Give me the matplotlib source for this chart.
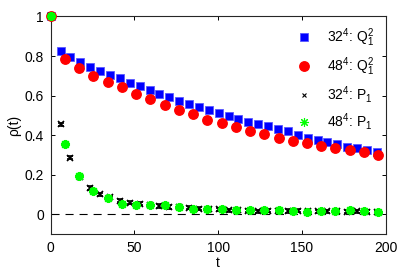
import numpy as np
import matplotlib
matplotlib.use("Agg")
import matplotlib.pyplot as plt
from matplotlib.lines import Line2D

plt.rcParams['font.family'] = ['Liberation Sans', 'DejaVu Sans']
plt.rcParams['mathtext.fontset'] = 'custom'
plt.rcParams['mathtext.rm'] = 'Liberation Sans'
plt.rcParams['mathtext.it'] = 'Liberation Sans'
plt.rcParams['mathtext.bf'] = 'Liberation Sans:bold'
plt.rcParams['lines.scale_dashes'] = False

# ---- data ----
t_32 = [0, 5.9, 11.8, 17.7, 23.6, 29.5, 35.4, 41.3, 47.2, 53.1, 59.0, 64.9, 70.8,
        76.7, 82.6, 88.5, 94.4, 100.3, 106.2, 112.1, 118.0, 123.9, 129.8, 135.7,
        141.6, 147.5, 153.4, 159.3, 165.2, 171.1, 177.0, 182.9, 188.8, 194.7]
q2_32 = [1.0, 0.827, 0.793, 0.770, 0.746, 0.724, 0.705, 0.687, 0.666, 0.648, 0.628,
         0.609, 0.592, 0.574, 0.558, 0.543, 0.527, 0.512, 0.498, 0.483, 0.468, 0.456,
         0.446, 0.429, 0.419, 0.402, 0.386, 0.375, 0.365, 0.354, 0.341, 0.333, 0.324,
         0.314]
p1_32 = [1.0, 0.454, 0.285, 0.190, 0.133, 0.101, 0.085, 0.068, 0.059, 0.054, 0.048,
         0.042, 0.037, 0.035, 0.032, 0.029, 0.027, 0.024, 0.020, 0.020, 0.018, 0.015,
         0.017, 0.018, 0.016, 0.017, 0.014, 0.015, 0.015, 0.014, 0.013, 0.014, 0.013,
         0.012]
p1_32_err = [0.0] + [0.008] * 33

t_48 = [0, 8.5, 17.0, 25.5, 34.0, 42.5, 51.0, 59.5, 68.0, 76.5, 85.0, 93.5, 102.0,
        110.5, 119.0, 127.5, 136.0, 144.5, 153.0, 161.5, 170.0, 178.5, 187.0, 195.5]
q2_48 = [1.0, 0.785, 0.739, 0.697, 0.667, 0.644, 0.609, 0.582, 0.550, 0.527, 0.505,
         0.479, 0.462, 0.439, 0.422, 0.404, 0.385, 0.371, 0.361, 0.344, 0.334, 0.324,
         0.314, 0.300]
p1_48 = [1.0, 0.355, 0.193, 0.116, 0.083, 0.054, 0.049, 0.046, 0.046, 0.037, 0.025,
         0.025, 0.025, 0.020, 0.020, 0.020, 0.020, 0.017, 0.012, 0.015, 0.016, 0.020,
         0.015, 0.012]

labels = [r'$32^4$: $\mathrm{Q}_1^2$', r'$48^4$: $\mathrm{Q}_1^2$',
          r'$32^4$: $\mathrm{P}_1$', r'$48^4$: $\mathrm{P}_1$']

# ---- figure ----
fig = plt.figure(figsize=(4.03, 2.70), dpi=100)
ax = fig.add_axes([0.1258, 0.1333, 0.8313, 0.8056])

ax.axhline(0, color='black', lw=0.8, ls=(0, (5.8, 4.3)), zorder=1)

ax.plot(t_32, q2_32, ls='none', marker='s', ms=5.4, color=(0, 0, 1),
        mec=(0.35, 0.35, 1), mew=0.6, zorder=3, clip_on=False)
ax.plot(t_48, q2_48, ls='none', marker='o', ms=6.8, color=(1, 0, 0),
        mec=(1, 0, 0), zorder=4, clip_on=False)
eb = ax.errorbar(t_32, p1_32, yerr=p1_32_err, fmt='x', ms=4.0, color='black',
                 mew=1.2, elinewidth=0.8, capsize=2.0, capthick=1.1, zorder=5)
for art in eb.lines[0:1]:
    art.set_clip_on(False)
ax.plot(t_48, p1_48, ls='none', marker=(8, 2, 0), ms=6.5, color=(0, 1, 0),
        mew=1.6, zorder=6, clip_on=False)

ax.set_xlim(0, 200)
ax.set_ylim(-0.1, 1.0)
ax.set_xticks([0, 50, 100, 150, 200])
ax.set_yticks([0, 0.2, 0.4, 0.6, 0.8, 1.0])
ax.set_yticklabels(['0', '0.2', '0.4', '0.6', '0.8', '1'])
ax.tick_params(direction='in', top=True, right=True, length=2.6, width=0.7,
               labelsize=10, pad=5, colors='black')
for s in ax.spines.values():
    s.set_linewidth(0.8)
    s.set_color('#262626')
ax.set_xlabel('t', fontsize=10, labelpad=1)
ax.set_ylabel(r'ρ(t)', fontsize=10, labelpad=2)

handles = [
    Line2D([], [], ls='none', marker='s', ms=5.4, color=(0, 0, 1), mec=(0.35, 0.35, 1), mew=0.6),
    Line2D([], [], ls='none', marker='o', ms=6.8, color=(1, 0, 0)),
    Line2D([], [], ls='none', marker='x', ms=3.5, color='black', mew=0.8),
    Line2D([], [], ls='none', marker=(8, 2, 0), ms=6.5, color=(0, 1, 0), mew=0.8),
]
ax.legend(handles, labels, loc='upper left', bbox_to_anchor=(0.705, 1.0),
          frameon=False, fontsize=10, handlelength=1.0, handletextpad=1.2,
          labelspacing=0.45, borderaxespad=0.3)

fig.savefig('out.png', dpi=100)
